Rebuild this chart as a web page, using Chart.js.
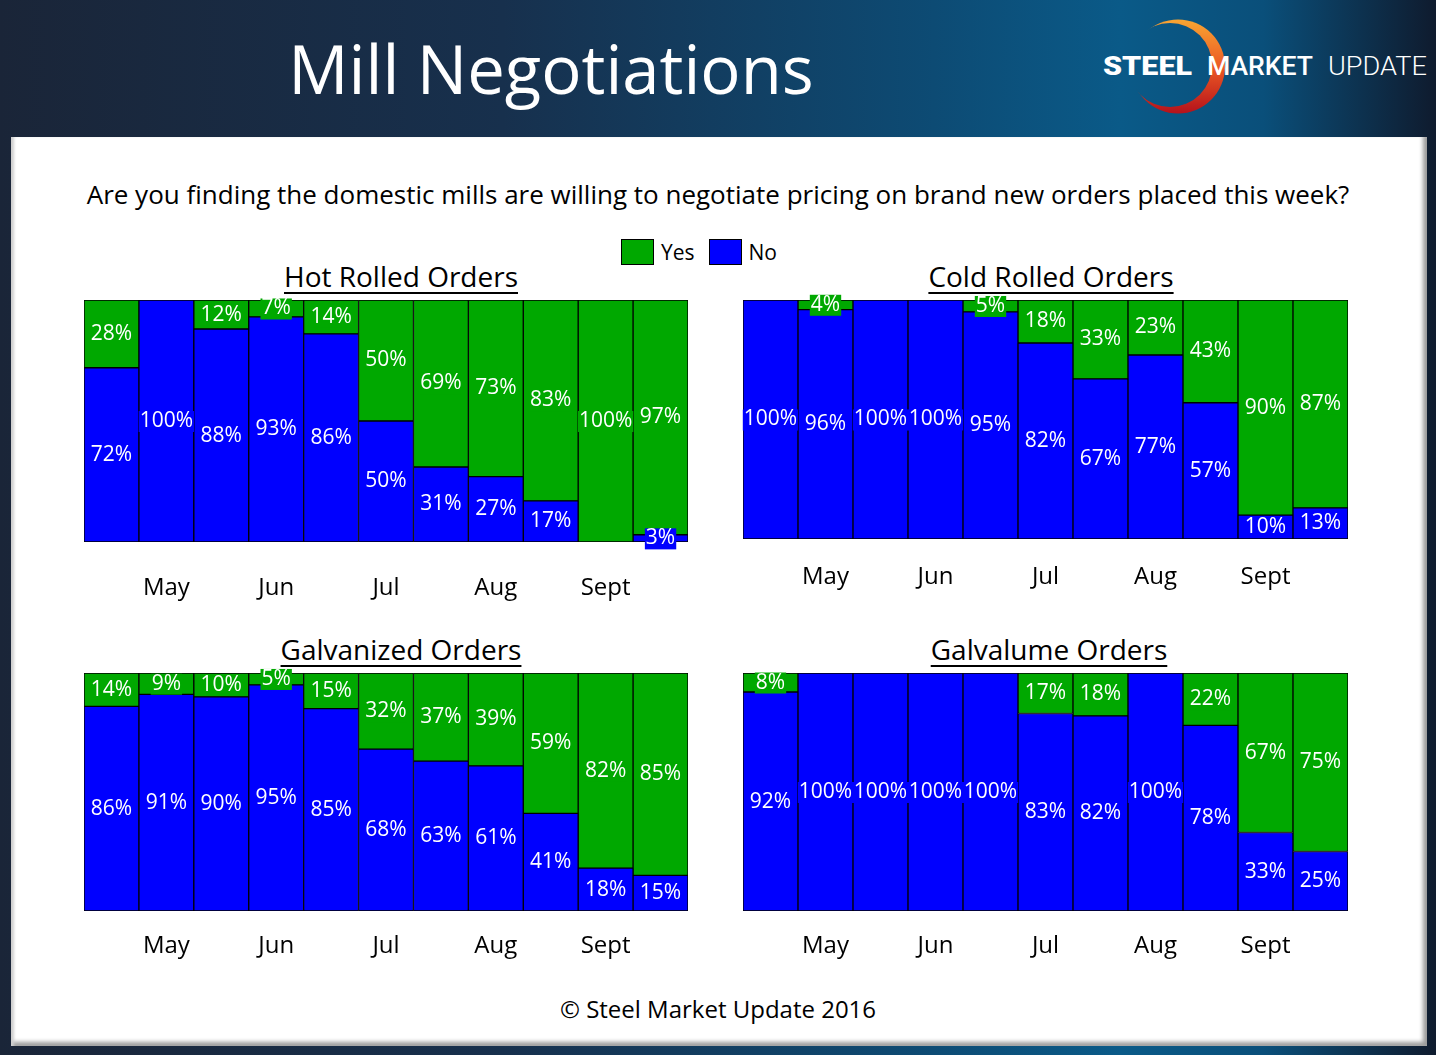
<!DOCTYPE html>
<html>
<head>
<meta charset="utf-8">
<script src="https://cdn.jsdelivr.net/npm/chart.js@4.4.1/dist/chart.umd.min.js"></script>
<style>
  html, body { margin: 0; padding: 0; }
  body {
    width: 1436px; height: 1055px; position: relative; overflow: hidden;
    background: linear-gradient(90deg, #1a2538 0%, #17304d 35%, #0d4b74 65%, #0a5a88 78%, #0a4f7a 88%, #0f1b2e 100%);
    font-family: "Open Sans", sans-serif;
  }
  #panel {
    position: absolute; left: 11px; top: 137px; width: 1416px; height: 909px;
    background: #fff;
    box-shadow: inset 4px 0 3px -1px #cfcfcf, inset -6px -6px 4px -2px #9a9a9a;
  }
  #title {
    position: absolute; left: 0; width: 1102px; top: 26px; text-align: center;
    color: #fff; font-size: 67px; line-height: 84px;
  }
  .abs { position: absolute; }
  #question { left: 0; width: 1436px; top: 176px; text-align: center; font-size: 26px; color: #000; }
  .ctitle { font-size: 28px; text-decoration: underline; text-underline-offset: 5px; text-decoration-thickness: 2px; color: #000; text-align: center; width: 500px; }
  #legend { left: 621px; top: 236px; font-size: 21px; color: #000; }
  #legend span.box { display: inline-block; width: 31px; height: 24px; border: 1px solid #000; vertical-align: middle; margin-right: 7px; }
  #legend span.lab { vertical-align: middle; margin-right: 14px; }
  #copy { left: 0; width: 1436px; top: 992px; text-align: center; font-size: 24px; color: #000; }
</style>
</head>
<body>
<div id="panel"></div>
<div id="title">Mill Negotiations</div>

<svg class="abs" style="left:0;top:0" width="1436" height="137">
  <defs>
    <linearGradient id="arcg" x1="0" y1="0" x2="0" y2="1">
      <stop offset="0" stop-color="#f8a532"/>
      <stop offset="0.5" stop-color="#ec5a24"/>
      <stop offset="1" stop-color="#b5121b"/>
    </linearGradient>
    <mask id="cut">
      <rect x="1100" y="0" width="200" height="137" fill="#fff"/>
      <circle cx="1170" cy="65" r="42" fill="#000"/>
    </mask>
  </defs>
  <circle cx="1178" cy="66.5" r="47" fill="url(#arcg)" mask="url(#cut)"/>
  <text x="1103" y="75" font-family="Roboto, Inter, sans-serif" font-weight="900" font-size="26" fill="#fff" textLength="89" lengthAdjust="spacingAndGlyphs">STEEL</text>
  <text x="1207" y="75" font-family="Roboto, Inter, sans-serif" font-weight="500" font-size="26" fill="#fff" textLength="106" lengthAdjust="spacingAndGlyphs">MARKET</text>
  <text x="1328" y="75" font-family="Roboto, Inter, sans-serif" font-weight="300" font-size="26" fill="#fff" textLength="99" lengthAdjust="spacingAndGlyphs">UPDATE</text>
</svg>

<div id="question" class="abs">Are you finding the domestic mills are willing to negotiate pricing on brand new orders placed this week?</div>
<div id="legend" class="abs"><span class="box" style="background:#00a800"></span><span class="lab">Yes</span><span class="box" style="background:#0000ff"></span><span class="lab">No</span></div>

<div class="abs ctitle" style="left:151px;top:257px">Hot Rolled Orders</div>
<div class="abs ctitle" style="left:801px;top:257px">Cold Rolled Orders</div>
<div class="abs ctitle" style="left:151px;top:630px">Galvanized Orders</div>
<div class="abs ctitle" style="left:799px;top:630px">Galvalume Orders</div>

<canvas id="c1" class="abs" style="left:82px;top:286px"></canvas>
<canvas id="c2" class="abs" style="left:741px;top:286px"></canvas>
<canvas id="c3" class="abs" style="left:82px;top:659px"></canvas>
<canvas id="c4" class="abs" style="left:741px;top:659px"></canvas>

<div id="copy" class="abs">© Steel Market Update 2016</div>

<script>
// 11 weekly surveys, month names sit under every second bar
var weeks = ["w1", "w2", "w3", "w4", "w5", "w6", "w7", "w8", "w9", "w10", "w11"];
var monthTicks = ["", "May", "", "Jun", "", "Jul", "", "Aug", "", "Sept", ""];

var hotYes  = [28, 0, 12, 7, 14, 50, 69, 73, 83, 100, 97];
var hotNo   = [72, 100, 88, 93, 86, 50, 31, 27, 17, 0, 3];

var coldYes = [0, 4, 0, 0, 5, 18, 33, 23, 43, 90, 87];
var coldNo  = [100, 96, 100, 100, 95, 82, 67, 77, 57, 10, 13];

var galvYes = [14, 9, 10, 5, 15, 32, 37, 39, 59, 82, 85];
var galvNo  = [86, 91, 90, 95, 85, 68, 63, 61, 41, 18, 15];

var glmYes  = [8, 0, 0, 0, 0, 17, 18, 0, 22, 67, 75];
var glmNo   = [92, 100, 100, 100, 100, 83, 82, 100, 78, 33, 25];

var GREEN = "#00a800";
var BLUE = "#0000ff";
var FONT = "'Open Sans', sans-serif";

// percent labels, each on a little box of its segment colour
var pctLabels = {
  id: "pctLabels",
  afterDatasetsDraw(chart) {
    var ctx = chart.ctx;
    ctx.save();
    ctx.font = "21px " + FONT;
    ctx.textAlign = "center";
    ctx.textBaseline = "middle";
    chart.data.datasets.forEach(function(ds, di) {
      var meta = chart.getDatasetMeta(di);
      meta.data.forEach(function(bar, i) {
        var v = ds.data[i];
        if (!v) return;
        var txt = v + "%";
        var y = (bar.y + bar.base) / 2;
        var w = ctx.measureText(txt).width + 2;
        ctx.fillStyle = ds.backgroundColor;
        ctx.fillRect(bar.x - w / 2, y - 10, w, 21);
        ctx.fillStyle = "#fff";
        ctx.fillText(txt, bar.x, y);
      });
    });
    ctx.restore();
  }
};

function makeChart(id, yes, no, plotW, plotH, tickPad) {
  var cv = document.getElementById(id);
  cv.width = plotW + 4;
  cv.height = plotH + 14 + 70;
  cv.style.width = cv.width + "px";
  cv.style.height = cv.height + "px";
  return new Chart(cv, {
    type: "bar",
    data: {
      labels: weeks,
      datasets: [
        { label: "No", data: no, backgroundColor: BLUE, borderColor: "#000", borderWidth: 1, borderSkipped: false },
        { label: "Yes", data: yes, backgroundColor: GREEN, borderColor: "#000", borderWidth: 1, borderSkipped: false }
      ]
    },
    options: {
      responsive: false,
      animation: false,
      devicePixelRatio: 1,
      layout: { padding: { top: 14, left: 2, right: 2, bottom: 0 } },
      plugins: { legend: { display: false }, tooltip: { enabled: false } },
      datasets: { bar: { barPercentage: 1, categoryPercentage: 1 } },
      scales: {
        x: {
          stacked: true,
          grid: { display: false, drawTicks: false },
          border: { display: false },
          // fixed axis height, and no side padding from the tick padding
          afterFit: function(s) { s.height = 70; s.paddingLeft = 0; s.paddingRight = 0; },
          ticks: {
            autoSkip: false, maxRotation: 0, padding: tickPad, color: "#000",
            font: { size: 24, family: FONT },
            callback: function(v, i) { return monthTicks[i]; }
          }
        },
        y: { stacked: true, display: false, min: 0, max: 100 }
      }
    },
    plugins: [pctLabels]
  });
}

makeChart("c1", hotYes, hotNo, 604, 242, 32);
makeChart("c2", coldYes, coldNo, 605, 239, 24);
makeChart("c3", galvYes, galvNo, 604, 238, 21);
makeChart("c4", glmYes, glmNo, 605, 238, 21);
</script>
</body>
</html>
